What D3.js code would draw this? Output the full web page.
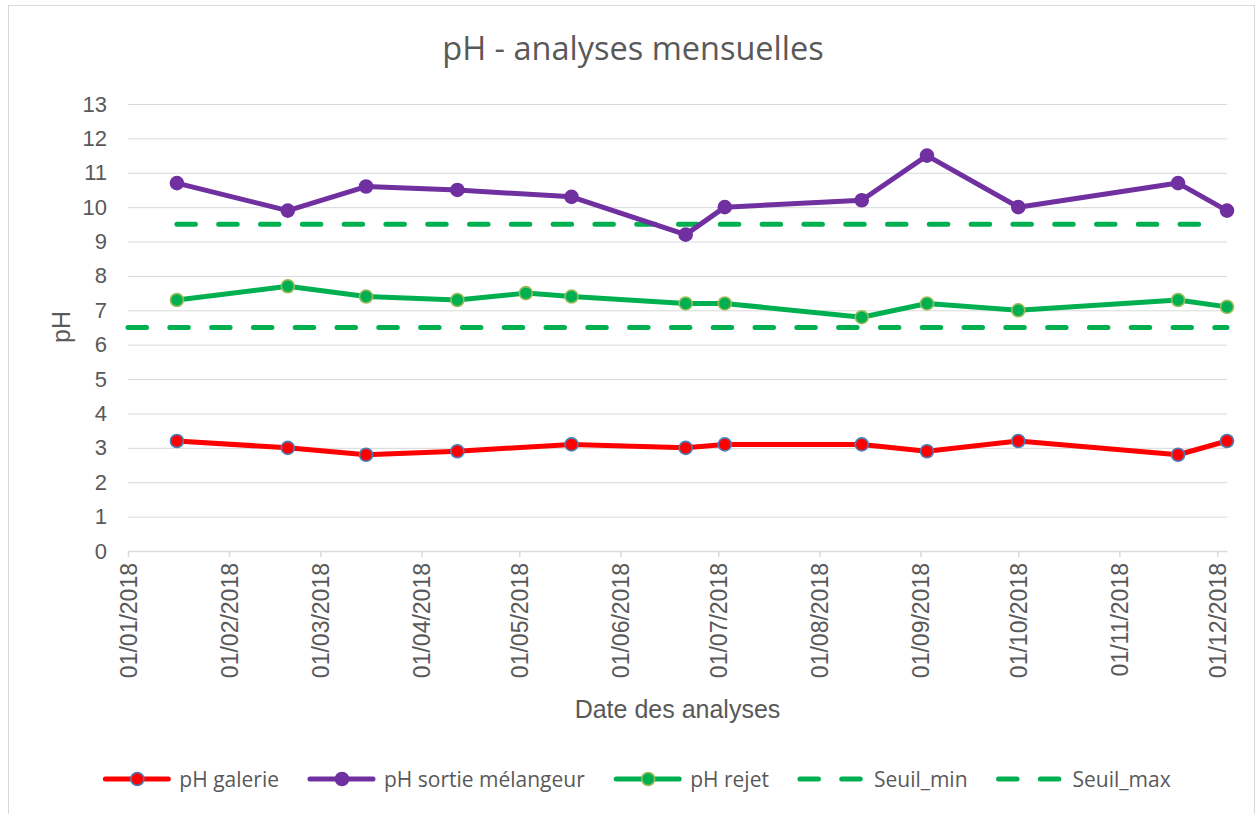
<!DOCTYPE html>
<html>
<head>
<meta charset="utf-8">
<script src="https://cdn.jsdelivr.net/npm/d3@7"></script>
<style>
  body { margin: 0; background: #fff; }
  text { fill: #595959; }
</style>
</head>
<body>
<div id="chart"></div>
<script>
const parseDate = d3.timeParse('%Y-%m-%d')
const formatDate = d3.timeFormat('%d/%m/%Y')

// sampling dates
const sampleDates = [
  '2018-01-16', '2018-02-19', '2018-03-15', '2018-04-12', '2018-05-03',
  '2018-05-17', '2018-06-21', '2018-07-03', '2018-08-14', '2018-09-03',
  '2018-10-01', '2018-11-19', '2018-12-04',
]
const phGalerie = [3.2, 3.0, 2.8, 2.9, null, 3.1, 3.0, 3.1, 3.1, 2.9, 3.2, 2.8, 3.2]
const phSortie = [10.7, 9.9, 10.6, 10.5, null, 10.3, 9.2, 10.0, 10.2, 11.5, 10.0, 10.7, 9.9]
const phRejet = [7.3, 7.7, 7.4, 7.3, 7.5, 7.4, 7.2, 7.2, 6.8, 7.2, 7.0, 7.3, 7.1]
const seuilMinDates = ['2018-01-01', '2018-12-04']
const seuilMinValues = [6.5, 6.5]
const seuilMaxDates = ['2018-01-16', '2018-12-01']
const seuilMaxValues = [9.5, 9.5]
const axisStart = '2018-01-01'
const yTicks = [0, 1, 2, 3, 4, 5, 6, 7, 8, 9, 10, 11, 12, 13]
const seriesNames = ['pH galerie', 'pH sortie mélangeur', 'pH rejet', 'Seuil_min', 'Seuil_max']

const W = 1257
const H = 814
const margin = { top: 104, right: 30, bottom: 263, left: 128 }
const width = W - margin.left - margin.right
const height = H - margin.top - margin.bottom

const toPoints = (dates, values) =>
  dates.map((d, i) => ({ date: parseDate(d), value: values[i] }))
    .filter((d) => d.value != null)

const series = [
  { name: seriesNames[0], data: toPoints(sampleDates, phGalerie), color: '#ff0000', marker: '#4a7ebb', dashed: false },
  { name: seriesNames[1], data: toPoints(sampleDates, phSortie), color: '#7030a0', marker: '#7030a0', dashed: false },
  { name: seriesNames[2], data: toPoints(sampleDates, phRejet), color: '#00b050', marker: '#9bbb59', dashed: false },
  { name: seriesNames[3], data: toPoints(seuilMinDates, seuilMinValues), color: '#00b050', dashed: true },
  { name: seriesNames[4], data: toPoints(seuilMaxDates, seuilMaxValues), color: '#00b050', dashed: true },
]

const svg = d3.select('#chart').append('svg')
  .attr('width', W)
  .attr('height', H)

svg.append('rect')
  .attr('x', 8.5).attr('y', 5.5)
  .attr('width', 1246).attr('height', 900)
  .attr('fill', '#fff')
  .attr('stroke', '#d9d9d9')

const bounds = svg.append('g')
  .attr('transform', `translate(${margin.left}, ${margin.top})`)

const xScale = d3.scaleTime()
  .domain([parseDate(axisStart), d3.max(sampleDates, parseDate)])
  .range([0, width])
const yScale = d3.scaleLinear()
  .domain([0, 13])
  .range([height, 0])

// gridlines
bounds.append('g')
  .call(d3.axisLeft(yScale).tickValues(yTicks.slice(1)).tickSize(-width).tickFormat(''))
  .call((g) => g.select('.domain').remove())
  .call((g) => g.selectAll('line').attr('stroke', '#d9d9d9').attr('stroke-width', 1))

// y axis labels
bounds.append('g')
  .call(d3.axisLeft(yScale).tickValues(yTicks).tickSize(0).tickPadding(21))
  .call((g) => g.select('.domain').remove())
  .call((g) => g.selectAll('text')
    .style('font-family', 'Liberation Sans, Arial, sans-serif')
    .style('font-size', '22px')
    .attr('fill', '#595959'))

// x axis
const xAxis = bounds.append('g')
  .attr('transform', `translate(0, ${height})`)
  .call(d3.axisBottom(xScale).ticks(d3.timeMonth.every(1)).tickSize(6).tickSizeOuter(0).tickFormat(formatDate))
xAxis.select('.domain').attr('stroke', '#d9d9d9').attr('stroke-width', 1.5)
xAxis.selectAll('line').attr('stroke', '#d9d9d9').attr('stroke-width', 1.5)
xAxis.selectAll('text')
  .style('font-family', 'Liberation Sans, Arial, sans-serif')
  .style('font-size', '23px')
  .attr('fill', '#595959')
  .attr('text-anchor', 'end')
  .attr('x', 0)
  .attr('y', 0)
  .attr('dy', '0.35em')
  .attr('transform', 'translate(0, 12) rotate(-90)')

// lines
const line = d3.line()
  .x((d) => xScale(d.date))
  .y((d) => yScale(d.value))

series.slice().reverse().forEach((s) => {
  bounds.append('path')
    .datum(s.data)
    .attr('fill', 'none')
    .attr('stroke', s.color)
    .attr('stroke-width', 5)
    .attr('stroke-linejoin', 'round')
    .attr('stroke-linecap', 'round')
    .attr('stroke-dasharray', s.dashed ? '18.5,23.3' : null)
    .attr('d', line)
})

series.filter((s) => !s.dashed).forEach((s) => {
  bounds.selectAll(null)
    .data(s.data)
    .join('circle')
    .attr('cx', (d) => xScale(d.date))
    .attr('cy', (d) => yScale(d.value))
    .attr('r', 6.5)
    .attr('fill', s.color)
    .attr('stroke', s.marker)
    .attr('stroke-width', 1.6)
})

// titles
svg.append('text')
  .attr('x', 633)
  .attr('y', 60)
  .attr('text-anchor', 'middle')
  .style('font-family', 'Open Sans, sans-serif')
  .style('font-size', '32.5px')
  .text('pH - analyses mensuelles')

svg.append('text')
  .attr('x', margin.left + width / 2)
  .attr('y', 718)
  .attr('text-anchor', 'middle')
  .style('font-family', 'Liberation Sans, Arial, sans-serif')
  .style('font-size', '25px')
  .text('Date des analyses')

svg.append('text')
  .attr('transform', 'translate(70, 327) rotate(-90)')
  .attr('text-anchor', 'middle')
  .style('font-family', 'Liberation Sans, Arial, sans-serif')
  .style('font-size', '25px')
  .text('pH')

// legend
const legend = svg.append('g').attr('transform', 'translate(0, 779)')
const items = legend.selectAll('g')
  .data(series)
  .join('g')

items.each(function (s) {
  const g = d3.select(this)
  g.append('line')
    .attr('x1', 2).attr('x2', 65)
    .attr('stroke', s.color)
    .attr('stroke-width', 5)
    .attr('stroke-linecap', 'round')
    .attr('stroke-dasharray', s.dashed ? '18.5,23.3' : null)
  if (!s.dashed) {
    g.append('circle')
      .attr('cx', 34).attr('r', 6.5)
      .attr('fill', s.color)
      .attr('stroke', s.marker)
      .attr('stroke-width', 1.6)
  }
  g.append('text')
    .attr('x', 76)
    .attr('dy', '0.36em')
    .style('font-family', 'Open Sans, sans-serif')
    .style('font-size', '21px')
    .text(s.name)
})

const widths = []
items.each(function () {
  widths.push(this.getBBox().width)
})
const gap = 31
const total = d3.sum(widths) + gap * (widths.length - 1)
let offset = 636 - total / 2
items.attr('transform', (d, i) => {
  const x = offset
  offset += widths[i] + gap
  return `translate(${x}, 0)`
})
</script>
</body>
</html>
